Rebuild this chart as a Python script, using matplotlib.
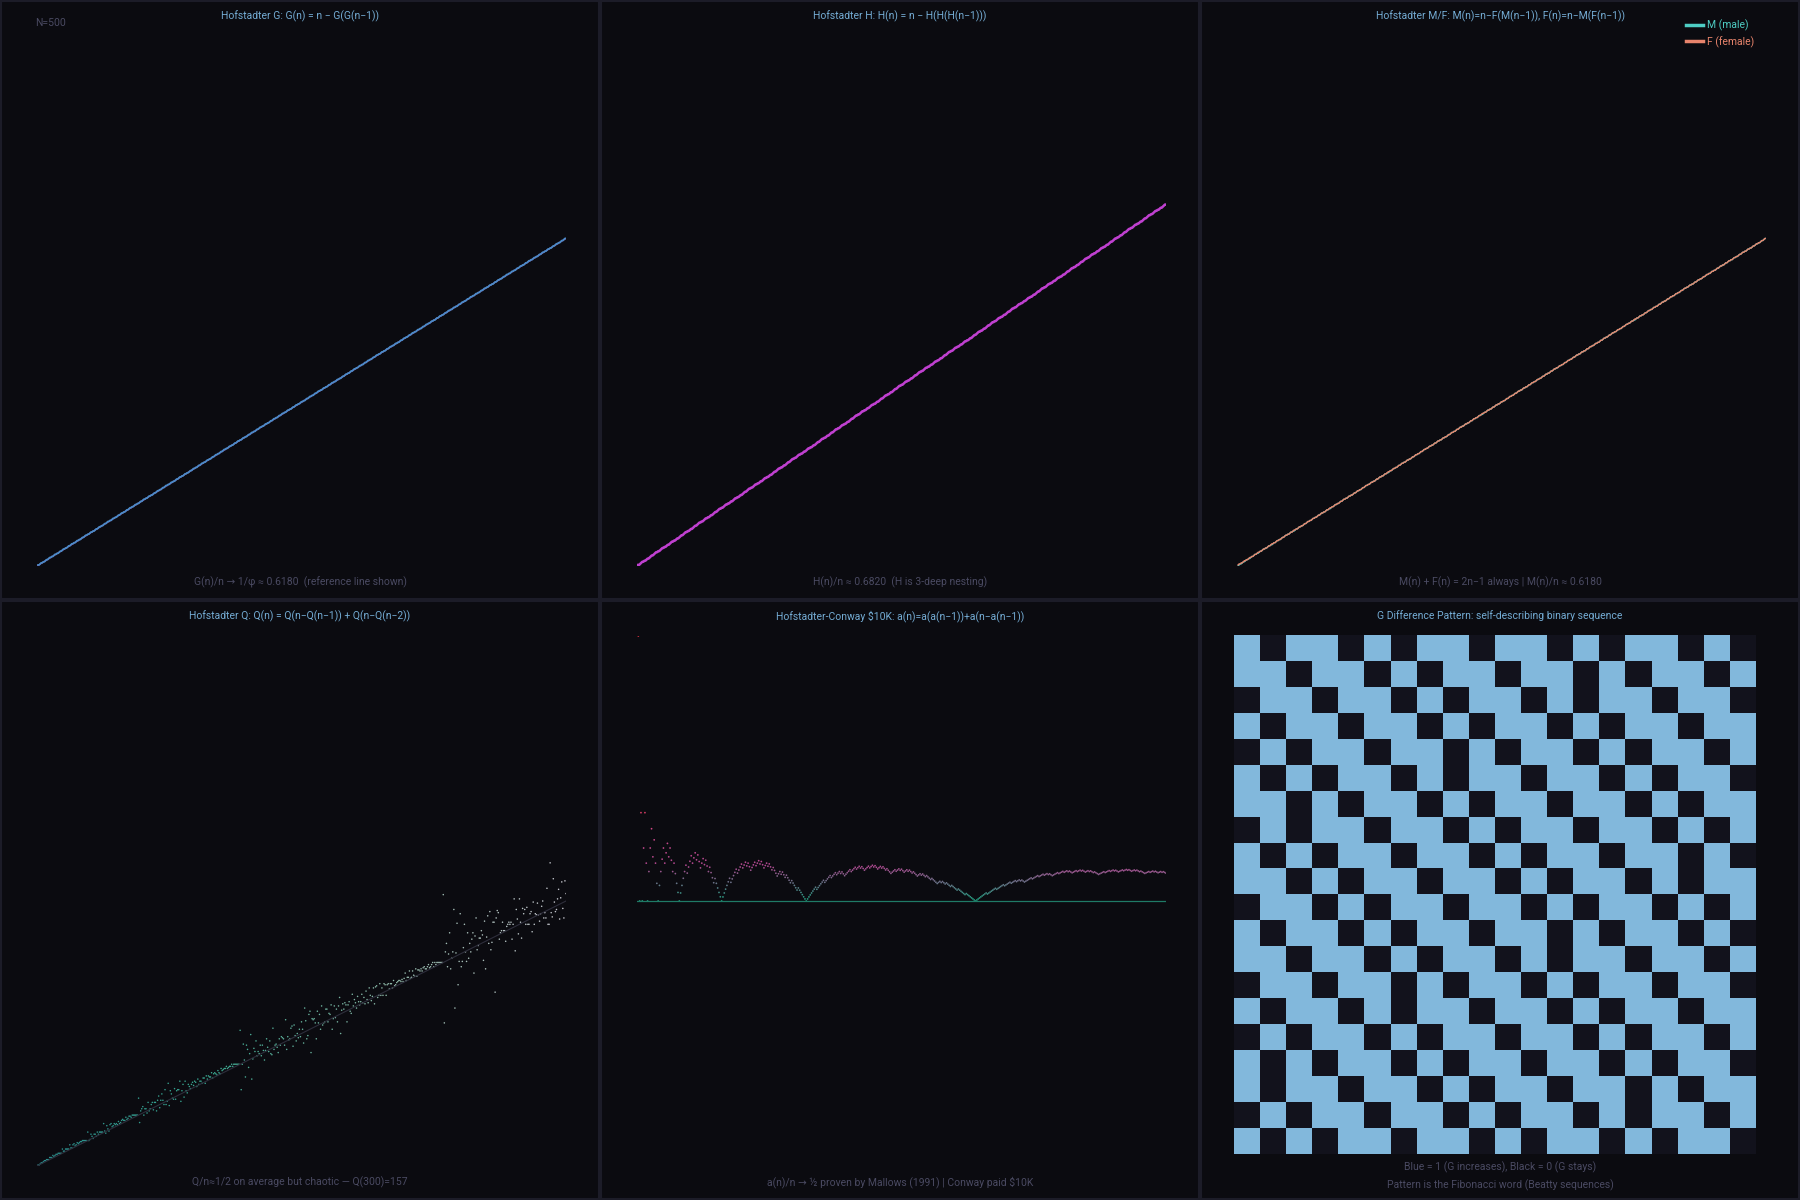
import matplotlib
matplotlib.use("Agg")
import matplotlib.pyplot as plt
import numpy as np
from matplotlib.colors import LinearSegmentedColormap
from matplotlib.patches import Rectangle

plt.rcParams['font.family'] = ['Roboto', 'DejaVu Sans']

# ---- data definitions (sequences defined by their recursions) ----
N = 500
N_CONWAY = 400
GRID = 20

titles = [
    "Hofstadter G: G(n) = n \u2212 G(G(n\u22121))",
    "Hofstadter H: H(n) = n \u2212 H(H(H(n\u22121)))",
    "Hofstadter M/F: M(n)=n\u2212F(M(n\u22121)), F(n)=n\u2212M(F(n\u22121))",
    "Hofstadter Q: Q(n) = Q(n\u2212Q(n\u22121)) + Q(n\u2212Q(n\u22122))",
    "Hofstadter-Conway \\$10K: a(n)=a(a(n\u22121))+a(n\u2212a(n\u22121))",
    "G Difference Pattern: self-describing binary sequence",
]
subtitles = [
    "G(n)/n \u2192 1/\u03c6 \u2248 0.6180  (reference line shown)",
    "H(n)/n \u2248 0.6820  (H is 3-deep nesting)",
    "M(n) + F(n) = 2n\u22121 always | M(n)/n \u2248 0.6180",
    "Q/n\u22481/2 on average but chaotic \u2014 Q(300)=157",
    "a(n)/n \u2192 \u00bd proven by Mallows (1991) | Conway paid \\$10K",
    "Blue = 1 (G increases), Black = 0 (G stays)\nPattern is the Fibonacci word (Beatty sequences)",
]
legend_labels = ["M (male)", "F (female)"]


def seq_G(n):
    g = [0] * (n + 1)
    for i in range(1, n + 1):
        g[i] = i - g[g[i - 1]]
    return np.array(g)


def seq_H(n):
    h = [0] * (n + 1)
    for i in range(1, n + 1):
        h[i] = i - h[h[h[i - 1]]]
    return np.array(h)


def seq_MF(n):
    m = [0] * (n + 1)
    f = [1] + [0] * n
    for i in range(1, n + 1):
        m[i] = i - f[m[i - 1]]
        f[i] = i - m[f[i - 1]]
    return np.array(m), np.array(f)


def seq_Q(n):
    q = [0, 1, 1] + [0] * (n - 2)
    for i in range(3, n + 1):
        q[i] = q[i - q[i - 1]] + q[i - q[i - 2]]
    return np.array(q)


def seq_conway(n):
    a = [0, 1, 1] + [0] * (n - 2)
    for i in range(3, n + 1):
        a[i] = a[a[i - 1]] + a[i - a[i - 1]]
    return np.array(a)


G = seq_G(N)
H = seq_H(N)
M, F = seq_MF(N)
Q = seq_Q(N)
A = seq_conway(N_CONWAY)
n_all = np.arange(N + 1)
phi = (1 + 5 ** 0.5) / 2

# ---- styling ----
BG = "#0b0b10"
BORDER = "#1c1c28"
TITLE_C = "#74acd4"
SUB_C = "#4a4a62"

fig = plt.figure(figsize=(18, 12), dpi=100, facecolor=BG)

W, Hh = 1800.0, 1200.0


def make_ax(col, row, l=37, t=36, w=529, h=530):
    left = (l + 600 * col) / W
    bottom = (Hh - (t + 600 * row + h)) / Hh
    ax = fig.add_axes([left, bottom, w / W, h / Hh])
    ax.set_facecolor("none")
    ax.axis("off")
    return ax


# panel frames
for r in range(2):
    for c in range(3):
        fig.add_artist(Rectangle(((600 * c + 1) / W, (600 * (1 - r) + 1) / Hh),
                                 598 / W, 598 / Hh, transform=fig.transFigure,
                                 facecolor="none", edgecolor=BORDER, lw=1.5))

# titles and subtitles
for idx in range(6):
    r, c = divmod(idx, 3)
    cx = (300 + 600 * c) / W
    fig.text(cx, (Hh - (16 + 600 * r)) / Hh, titles[idx], color=TITLE_C,
             fontsize=7.5, ha="center", va="center")
    if idx < 5:
        fig.text(cx, (Hh - (582 + 600 * r)) / Hh, subtitles[idx], color=SUB_C,
                 fontsize=7.5, ha="center", va="center")
    else:
        fig.text(cx, (Hh - (1176)) / Hh, subtitles[idx], color=SUB_C,
                 fontsize=7.5, ha="center", va="center", linespacing=1.7)

fig.text(35 / W, (Hh - 23) / Hh, "N=500", color=SUB_C, fontsize=7.5,
         ha="left", va="center")

# Panel 1: G
ax1 = make_ax(0, 0)
ax1.plot(n_all, n_all / phi, color="#d040c0", lw=1.0, alpha=0.8)
ax1.plot(n_all[1:], G[1:], color="#4a8cc8", lw=1.3)
ax1.set_xlim(0, N)
ax1.set_ylim(0, N)

# Panel 2: H
ax2 = make_ax(1, 0)
ax2.plot(n_all[1:], H[1:], color="#c040d0", lw=1.8)
ax2.set_xlim(0, N)
ax2.set_ylim(0, N)

# Panel 3: M/F
ax3 = make_ax(2, 0)
ax3.plot(n_all[1:], M[1:], color="#4ecdc4", lw=1.0, label=legend_labels[0])
ax3.plot(n_all[1:], F[1:], color="#e8846c", lw=1.0, label=legend_labels[1])
ax3.set_xlim(0, N)
ax3.set_ylim(0, N)
leg = ax3.legend(loc="upper right", bbox_to_anchor=(0.995, 1.048), frameon=False,
                 fontsize=7.5, handlelength=1.6, handletextpad=0.4,
                 labelspacing=0.45)
for txt, line in zip(leg.get_texts(), leg.get_lines()):
    txt.set_color(line.get_color())
    line.set_linewidth(2.5)

# Panel 4: Q
ax4 = make_ax(0, 1)
ax4.plot([0, N], [0, N / 2], color="#2e2e3c", lw=0.8)
qcmap = LinearSegmentedColormap.from_list("q", ["#2a8c8c", "#3aa890", "#8fb8a8", "#c8c8d0"])
ax4.scatter(n_all[1:], Q[1:], c=n_all[1:], cmap=qcmap, s=1.2, linewidths=0)
ax4.set_xlim(0, N)
ax4.set_ylim(0, N)

# Panel 5: Hofstadter-Conway
ax5 = make_ax(1, 1)
nc = np.arange(1, N_CONWAY + 1)
ratio = A[1:] / nc
ax5.axhline(0.5, color="#1f7a66", lw=0.9)
ccmap = LinearSegmentedColormap.from_list("c", ["#20a080", "#b04890", "#d04888", "#e03040"])
ax5.scatter(nc, ratio, c=np.abs(ratio - 0.5), cmap=ccmap, vmin=0, vmax=0.2,
            s=1.6, linewidths=0)
ax5.set_xlim(0, N_CONWAY)
ax5.set_ylim(0, 1)

# Panel 6: G difference grid
ax6 = make_ax(2, 1, l=34, t=35, w=521, h=519)
diffs = np.diff(G)[:GRID * GRID].reshape(GRID, GRID)
gcmap = LinearSegmentedColormap.from_list("g", ["#12121c", "#82b8dc"])
ax6.imshow(diffs, cmap=gcmap, vmin=0, vmax=1, interpolation="nearest",
           aspect="auto")

fig.savefig("out.png", dpi=100, facecolor=BG)
